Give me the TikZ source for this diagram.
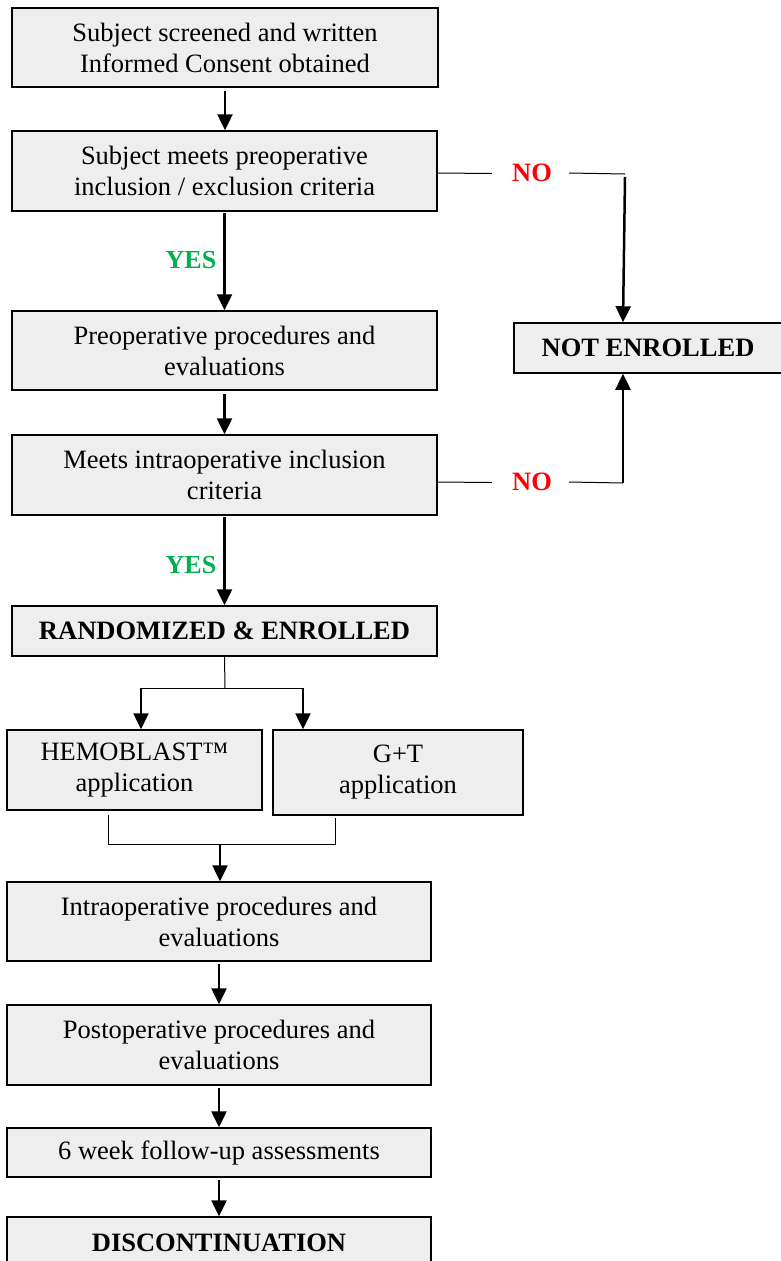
\documentclass[tikz,border=0pt]{standalone}
\usepackage{fontspec}
\setmainfont{Liberation Serif}
\usetikzlibrary{arrows.meta,calc}
\definecolor{boxfill}{HTML}{EEEEEE}
\definecolor{yesgreen}{HTML}{00B050}
\tikzset{
  flowbox/.style={draw=black,fill=boxfill,line width=1.5pt,inner sep=0pt,align=center,
    font=\fontsize{26.5}{31}\selectfont},
  boldbox/.style={flowbox,font=\fontsize{26.5}{31}\selectfont\bfseries},
  arr/.style={line width=2.5pt,-{Triangle[width=15pt,length=16pt]}},
  thinline/.style={line width=1pt},
  nolabel/.style={text=red,font=\fontsize{26.5}{31}\selectfont\bfseries,inner sep=0pt},
  yeslabel/.style={text=yesgreen,font=\fontsize{26}{31}\selectfont\bfseries,inner sep=0pt}
}
\begin{document}
\begin{tikzpicture}[x=1pt,y=-1pt]
\useasboundingbox (0,0) rectangle (781,1261);
\node[flowbox,minimum width=426pt,minimum height=79pt] (b1) at (225,47.5) {Subject screened and written\\Informed Consent obtained};
\node[flowbox,minimum width=425pt,minimum height=80pt] (b2) at (224.5,171) {Subject meets preoperative\\inclusion / exclusion criteria};
\node[flowbox,minimum width=425pt,minimum height=79pt] (b3) at (224.5,350.5) {Preoperative procedures and\\evaluations};
\node[flowbox,minimum width=425pt,minimum height=80pt] (b4) at (224.5,475) {Meets intraoperative inclusion\\criteria};
\node[boldbox,minimum width=425pt,minimum height=50pt] (b5) at (224.5,631) {RANDOMIZED \& ENROLLED};
\node[flowbox,minimum width=255pt,minimum height=80pt] (hemo) at (134.5,770) {HEMOBLAST™\\application};
\node[flowbox,minimum width=250pt,minimum height=85pt] (gt) at (398,772.5) {G+T\\application};
\node[flowbox,minimum width=424pt,minimum height=79pt] (b6) at (219,921.5) {Intraoperative procedures and\\evaluations};
\node[flowbox,minimum width=424pt,minimum height=80pt] (b7) at (219,1045) {Postoperative procedures and\\evaluations};
\node[flowbox,minimum width=424pt,minimum height=49pt] (b8) at (219,1152.5) {6 week follow-up assessments};
\node[boldbox,minimum width=424pt,minimum height=52pt] (b9) at (219,1243) {DISCONTINUATION};
\node[boldbox,minimum width=268pt,minimum height=50pt] (ne) at (648,348) {NOT ENROLLED};

\node[yeslabel] (yes1) at (191,260) {YES};
\node[yeslabel] (yes2) at (191,565) {YES};
\node[nolabel] (no1) at (532,173) {NO};
\node[nolabel] (no2) at (532,482) {NO};

% main arrows
\draw[arr] ($(b1.south)+(0,3)$) -- (b1.south |- b2.north);
\draw[arr] ($(b2.south)+(0,1)$) -- (b2.south |- b3.north);
\draw[arr] ($(b3.south)+(0,3)$) -- (b3.south |- b4.north);
\draw[arr] ($(b4.south)+(0,1)$) -- (b4.south |- b5.north);

% NO branches
\coordinate (c1) at (625,174);
\coordinate (c2) at (623,483);
\draw[thinline] (b2.east |- no1) -- ($(no1.west)+(-20,0.5)$);
\draw[thinline] ($(no1.east)+(17,0)$) -- (c1);
\draw[arr] ($(c1)+(0,3)$) -- ($(c1 |- ne.north)+(-2,0)$);
\draw[thinline] (b4.east |- no2) -- ($(no2.west)+(-20,0.5)$);
\draw[thinline] ($(no2.east)+(17,0)$) -- (c2);
\draw[arr] (c2) -- (c2 |- ne.south);

% split
\coordinate (s) at (225,688);
\coordinate (sl) at (141,688);
\coordinate (sr) at (303,688);
\draw[thinline] (b5.south) -- (s);
\draw[thinline] (sl) -- (sr);
\draw[arr] (sl) -- (sl |- hemo.north);
\draw[arr] (sr) -- (sr |- gt.north);

% merge
\coordinate (ml) at (108,844);
\coordinate (mr) at (335,844);
\coordinate (mm) at (220,844);
\draw[thinline] (ml |- hemo.south) ++(0,4) -- (ml) -- (mr) -- ($(mr |- gt.south)+(0,2)$);
\draw[arr] (mm) -- (mm |- b6.north);

% lower arrows
\draw[arr] ($(b6.south)+(0,2)$) -- (b6.south |- b7.north);
\draw[arr] ($(b7.south)+(0,2)$) -- (b7.south |- b8.north);
\draw[arr] ($(b8.south)+(0,2)$) -- (b8.south |- b9.north);
\end{tikzpicture}
\end{document}
